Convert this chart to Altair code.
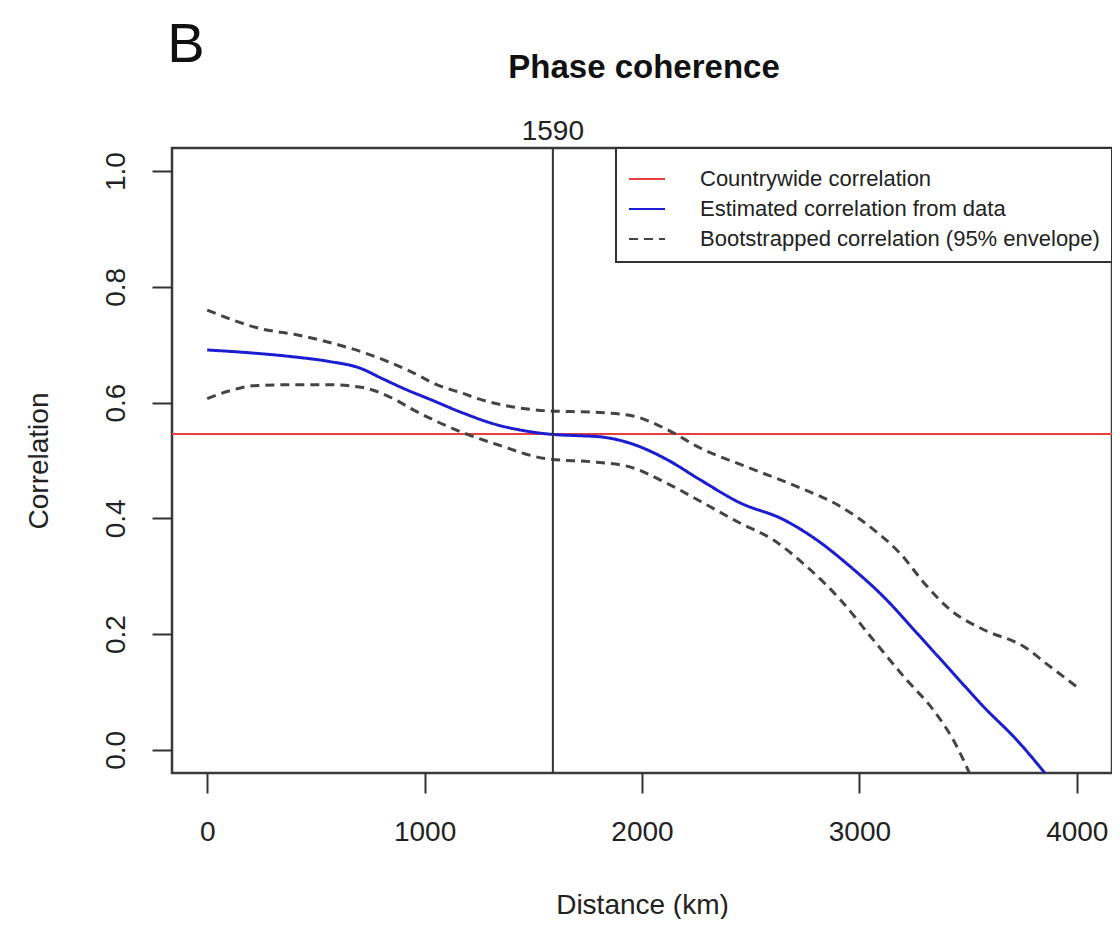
import altair as alt
import pandas as pd

FONT = "Liberation Sans"

# ---- data ----
dist_est = [0, 200, 400, 563, 700, 808, 900, 1023, 1177, 1330, 1450, 1591, 1700, 1806, 1944,
            2113, 2266, 2450, 2650, 2803, 2957, 3110, 3264, 3418, 3570, 3724, 3900]
corr_est = [0.691, 0.686, 0.679, 0.671, 0.660, 0.641, 0.625, 0.606, 0.582, 0.562, 0.552, 0.545,
            0.543, 0.541, 0.530, 0.502, 0.467, 0.427, 0.398, 0.363, 0.317, 0.265, 0.202, 0.138,
            0.075, 0.017, -0.062]

dist_up = [0, 255, 400, 563, 716, 946, 1050, 1176, 1253, 1400, 1560, 1806, 1959, 2113, 2266,
           2496, 2726, 2911, 3064, 3186, 3310, 3418, 3570, 3754, 3877, 4007]
corr_up = [0.760, 0.727, 0.718, 0.704, 0.687, 0.652, 0.632, 0.616, 0.606, 0.593, 0.586, 0.583,
           0.577, 0.554, 0.522, 0.487, 0.453, 0.421, 0.381, 0.340, 0.283, 0.242, 0.208, 0.179,
           0.144, 0.107]

dist_lo = [0, 100, 210, 400, 563, 716, 850, 946, 1177, 1330, 1560, 1791, 1944, 2113, 2266, 2450,
           2603, 2757, 2911, 3064, 3217, 3340, 3432, 3530]
corr_lo = [0.607, 0.620, 0.629, 0.631, 0.631, 0.626, 0.608, 0.588, 0.548, 0.528, 0.503, 0.497,
           0.489, 0.461, 0.430, 0.392, 0.363, 0.317, 0.260, 0.190, 0.121, 0.069, 0.017, -0.060]

countrywide = [0.546]
threshold = [1590]

series_labels = ["Countrywide correlation", "Estimated correlation from data",
                 "Bootstrapped correlation (95% envelope)"]
series_colors = ["#e8403f", "#1c1cd0", "#444444"]
series_dashes = [[1, 0], [1, 0], [9, 6]]

x_ticks = [0, 1000, 2000, 3000, 4000]
y_ticks = [0.0, 0.2, 0.4, 0.6, 0.8, 1.0]

# ---- tables ----
rows = []
for d, c in zip(dist_est, corr_est):
    rows.append({"dist": d, "corr": c, "series": series_labels[1], "band": "est"})
for d, c in zip(dist_up, corr_up):
    rows.append({"dist": d, "corr": c, "series": series_labels[2], "band": "upper"})
for d, c in zip(dist_lo, corr_lo):
    rows.append({"dist": d, "corr": c, "series": series_labels[2], "band": "lower"})
curves = pd.DataFrame(rows)
cw = pd.DataFrame({"corr": countrywide, "series": [series_labels[0]]})
thr = pd.DataFrame({"dist": threshold, "label": [str(t) for t in threshold]})

W, H = 940, 625

xscale = alt.Scale(domain=[-162, 4162], nice=False, zero=False)
yscale = alt.Scale(domain=[-0.04, 1.04], nice=False, zero=False)

legend = alt.Legend(title=None, orient="none", legendX=444, legendY=0, direction="vertical",
                    strokeColor="#333333", fillColor="white", padding=12,
                    symbolType="stroke", symbolSize=1296, symbolStrokeWidth=2,
                    labelFontSize=22, labelOffset=34, rowPadding=0, labelLimit=0,
                    labelFont=FONT, labelColor="#222222")

color = alt.Color("series:N", scale=alt.Scale(domain=series_labels, range=series_colors),
                  legend=legend)
dash = alt.StrokeDash("series:N", scale=alt.Scale(domain=series_labels, range=series_dashes),
                      legend=legend)

xaxis = alt.Axis(values=x_ticks, format="d", title="Distance (km)", tickSize=20, tickWidth=2,
                 tickColor="#333333", domain=False, grid=False, labelFlush=False,
                 labelFontSize=28, labelFont=FONT, labelColor="#222222",
                 labelBaseline="alphabetic", labelPadding=47,
                 titleFontSize=28, titleFont=FONT, titleFontWeight="normal", titleColor="#222222",
                 titleX=W / 2, titleY=140, titleAlign="center", titleBaseline="alphabetic")
yaxis = alt.Axis(values=y_ticks, format=".1f", title="Correlation", tickSize=20, tickWidth=2,
                 tickColor="#333333", domain=False, grid=False, labelFlush=False,
                 labelFontSize=28, labelFont=FONT, labelColor="#222222",
                 labelAngle=270, labelAlign="center", labelBaseline="alphabetic",
                 labelPadding=28,
                 titleFontSize=28, titleFont=FONT, titleFontWeight="normal", titleColor="#222222",
                 titleAngle=270, titleX=-125, titleY=H / 2, titleAlign="center",
                 titleBaseline="alphabetic")

red = alt.Chart(cw).mark_rule(strokeWidth=2).encode(
    y=alt.Y("corr:Q", scale=yscale, axis=yaxis),
    color=color, strokeDash=dash,
)

lines = alt.Chart(curves).mark_line(strokeWidth=3, clip=True, interpolate="monotone").encode(
    x=alt.X("dist:Q", scale=xscale, axis=xaxis),
    y=alt.Y("corr:Q", scale=yscale, axis=yaxis),
    color=color, strokeDash=dash, detail="band:N",
)

vline = alt.Chart(thr).mark_rule(strokeWidth=2, color="#333333").encode(
    x=alt.X("dist:Q", scale=xscale, axis=xaxis),
)

vlabel = alt.Chart(thr).mark_text(fontSize=28, font=FONT, color="#222222", align="center",
                                  baseline="alphabetic").encode(
    x=alt.X("dist:Q", scale=xscale, axis=xaxis),
    y=alt.value(-8),
    text="label:N",
)

title_df = pd.DataFrame({"t": ["Phase coherence"]})
panel_df = pd.DataFrame({"t": ["B"]})

title = alt.Chart(title_df).mark_text(fontSize=33, fontWeight="bold", font=FONT, color="#111111",
                                      align="center", baseline="alphabetic").encode(
    x=alt.value(472), y=alt.value(-70), text="t:N")
panel = alt.Chart(panel_df).mark_text(fontSize=56, font=FONT, color="#111111",
                                      align="center", baseline="alphabetic").encode(
    x=alt.value(14), y=alt.value(-86), text="t:N")

chart = alt.layer(red, lines, vline, vlabel, title, panel).properties(
    width=W, height=H,
    autosize=alt.AutoSizeParams(type="none"),
    padding={"left": 164, "top": 140, "right": 0, "bottom": 146},
).configure_view(
    stroke="#3a3a3a", strokeWidth=2.5
).configure_legend(
    strokeWidth=2
)

chart.save("out.html", embed_options={"renderer": "svg", "actions": False})
